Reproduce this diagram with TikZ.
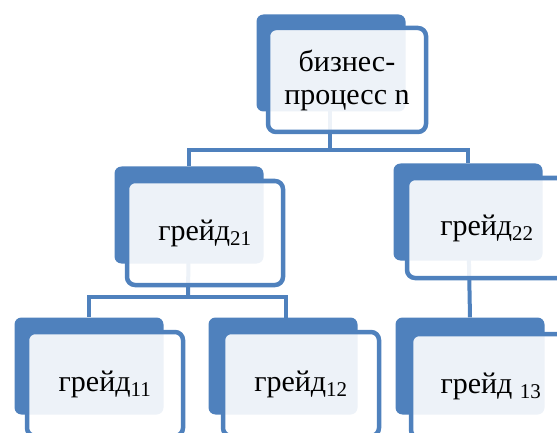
\documentclass[tikz,border=0pt]{standalone}
\usepackage{fontspec}
\setmainfont{Liberation Serif}
\definecolor{hblue}{RGB}{79,129,189}
\tikzset{
  backbox/.style={fill=hblue, draw=none, rounded corners=7pt,
    minimum width=149pt, minimum height=97pt, inner sep=0pt},
  frontbox/.style={fill=white, fill opacity=0.9, text opacity=1,
    draw=hblue, line width=4.5pt, rounded corners=8pt,
    minimum width=156pt, minimum height=104pt, inner sep=0pt,
    align=center, font=\fontsize{30}{33}\selectfont},
  link/.style={draw=hblue, line width=4pt}
}
\begin{document}
\begin{tikzpicture}[x=1pt,y=-1pt]
\useasboundingbox (0,0) rectangle (557,433);
\clip (0,0) rectangle (557,433);
% blue back plates
\node[backbox] (topB) at (331,63) {};
\node[backbox] (g21B) at (189,215) {};
\node[backbox] (g22B) at (468,212) {};
\node[backbox] (g11B) at (89,366) {};
\node[backbox] (g12B) at (283,366) {};
\node[backbox] (g13B) at (470,366) {};
% junction points of the tree
\coordinate (j1) at (330,150);
\coordinate (j2) at (188,297);
% connectors
\draw[link] (330,63) -- (j1);
\draw[link] (j1) -| (g21B.north);
\draw[link] (j1) -| (g22B.north);
\draw[link] (g21B.center) -- (j2);
\draw[link] (j2) -| (g11B.north);
\draw[link] (j2) -| (286,366);
\draw[link] (g22B.center) -- (g13B.north);
% front cards with labels
\node[frontbox, minimum width=158pt] (top) at (347,80) {бизнес-\\процесс n};
\node[frontbox] (g21) at (205,233) {\raisebox{-4pt}{грейд\textsubscript{21}}};
\node[frontbox, minimum width=160pt, minimum height=100pt] (g22) at (487,228) {\raisebox{-4pt}{грейд\textsubscript{22}}};
\node[frontbox] (g11) at (105,384) {\raisebox{-2pt}{грейд\textsubscript{11}}};
\node[frontbox] (g12) at (301,384) {\raisebox{-2pt}{грейд\textsubscript{12}}};
\node[frontbox, minimum width=160pt] (g13) at (491,386) {грейд \textsubscript{13}};
\end{tikzpicture}
\end{document}
